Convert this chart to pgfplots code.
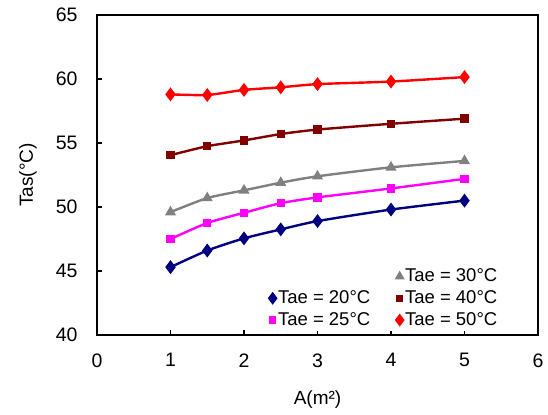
\documentclass[border=0pt]{standalone}
\usepackage{pgfplots}
\pgfplotsset{compat=1.18}
\usepackage{fontspec}
\setmainfont{Liberation Sans}
\definecolor{cnavy}{RGB}{0,0,128}
\definecolor{cmag}{RGB}{255,0,255}
\definecolor{cgray}{RGB}{128,128,128}
\definecolor{cbrown}{RGB}{128,0,0}
\definecolor{cred}{RGB}{255,0,0}
\pgfplotstableread{
x t20 t25 t30 t40 t50
1 45.3 47.5 49.6 54.05 58.8
1.5 46.6 48.75 50.7 54.75 58.75
2 47.55 49.55 51.3 55.2 59.15
2.5 48.25 50.3 51.9 55.7 59.35
3 48.9 50.75 52.4 56.05 59.6
4 49.8 51.45 53.1 56.5 59.8
5 50.5 52.2 53.6 56.9 60.15
}\data
\begin{document}
\fontsize{19}{22}\selectfont
\begin{tikzpicture}
\begin{axis}[
  name=ax,
  scale only axis, width=441pt, height=320pt,
  xmin=0, xmax=6, ymin=40, ymax=65,
  xtick={0,1,...,6}, ytick={40,45,...,65},
  tick pos=left, tick align=inside, major tick length=5pt,
  axis line style={line width=1.5pt},
  every tick/.style={black, line width=1.5pt},
  /pgf/number format/assume math mode=true,
  ticklabel style={font=\fontsize{19.5}{21}\selectfont},
  xticklabel style={yshift=-12pt},
  yticklabel style={xshift=-13pt},
  xlabel={A(m²)},
  ylabel={Tas(°C)},
  every axis x label/.style={at={(axis description cs:0.5,-0.203)}, anchor=center},
  every axis y label/.style={at={(axis description cs:-0.1565,0.5)}, rotate=90, anchor=center},
  label style={font=\fontsize{19}{21}\selectfont},
  legend style={draw=none, fill=white, at={(0.915,0.012)}, anchor=south east,
    inner sep=1pt,
    font=\fontsize{18.5}{20}\selectfont, row sep=2pt,
    /tikz/every even column/.append style={column sep=24pt}},
  legend columns=2, legend cell align=left,
  every axis plot/.append style={line width=2.4pt, smooth, tension=0.4},
]
\addplot[color=cnavy, mark=diamond*, mark size=5pt, forget plot] table[x=x,y=t20]{\data};
\addplot[color=cmag, mark=square*, mark size=3pt, forget plot] table[x=x,y=t25]{\data};
\addplot[color=cgray, mark=triangle*, mark size=4pt, forget plot] table[x=x,y=t30]{\data};
\addplot[color=cbrown, mark=square*, mark size=3pt, forget plot] table[x=x,y=t40]{\data};
\addplot[color=cred, mark=diamond*, mark size=5pt, forget plot] table[x=x,y=t50]{\data};
\addlegendimage{empty legend}\addlegendentry{}
\addlegendimage{only marks, color=cgray, mark=triangle*, mark size=3.5pt}\addlegendentry{Tae = 30°C}
\addlegendimage{only marks, color=cnavy, mark=diamond*, mark size=4.5pt}\addlegendentry{Tae = 20°C}
\addlegendimage{only marks, color=cbrown, mark=square*, mark size=2.5pt}\addlegendentry{Tae = 40°C}
\addlegendimage{only marks, color=cmag, mark=square*, mark size=2.5pt}\addlegendentry{Tae = 25°C}
\addlegendimage{only marks, color=cred, mark=diamond*, mark size=4.5pt}\addlegendentry{Tae = 50°C}
\end{axis}
\pgfresetboundingbox
\path[use as bounding box] ([shift={(-97pt,-79pt)}]ax.south west) rectangle ([shift={(10pt,15pt)}]ax.north east);
\end{tikzpicture}
\end{document}
